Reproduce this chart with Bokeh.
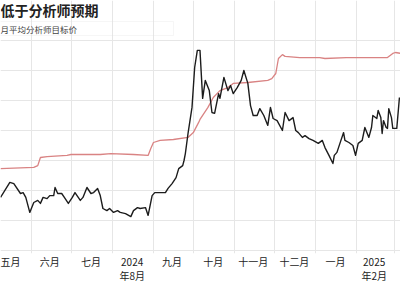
import pandas as pd
from bokeh.plotting import figure
from bokeh.models import Range1d, FixedTicker, Grid, Label, BoxAnnotation
from bokeh.embed import file_html
from bokeh.resources import INLINE

# ---------------- data ----------------
price_dates = [
    "2024-05-09", "2024-05-16", "2024-05-19", "2024-05-24", "2024-05-26", "2024-05-28", "2024-05-31",
    "2024-06-03", "2024-06-06", "2024-06-08", "2024-06-10", "2024-06-13", "2024-06-15", "2024-06-18",
    "2024-06-19", "2024-06-21", "2024-06-24", "2024-06-26", "2024-06-29",
    "2024-07-02", "2024-07-04", "2024-07-08", "2024-07-10", "2024-07-13", "2024-07-16", "2024-07-18",
    "2024-07-21", "2024-07-23", "2024-07-25", "2024-07-28", "2024-07-30",
    "2024-08-02", "2024-08-05", "2024-08-07", "2024-08-11", "2024-08-15", "2024-08-17", "2024-08-20",
    "2024-08-22", "2024-08-26", "2024-08-28", "2024-08-31",
    "2024-09-02", "2024-09-06", "2024-09-10", "2024-09-12", "2024-09-15", "2024-09-18", "2024-09-20",
    "2024-09-23", "2024-09-24", "2024-09-25", "2024-09-27", "2024-09-30",
    "2024-10-02", "2024-10-04", "2024-10-06", "2024-10-08", "2024-10-10", "2024-10-13", "2024-10-15",
    "2024-10-17", "2024-10-20", "2024-10-21", "2024-10-24", "2024-10-27", "2024-10-29", "2024-10-31",
    "2024-11-03", "2024-11-06", "2024-11-08", "2024-11-11", "2024-11-13", "2024-11-15", "2024-11-18",
    "2024-11-20", "2024-11-23", "2024-11-26", "2024-11-28", "2024-11-30",
    "2024-12-03", "2024-12-07", "2024-12-09", "2024-12-12", "2024-12-15", "2024-12-17", "2024-12-19",
    "2024-12-22", "2024-12-24", "2024-12-27", "2024-12-30",
    "2025-01-03", "2025-01-06", "2025-01-08", "2025-01-11", "2025-01-14", "2025-01-15", "2025-01-17",
    "2025-01-20", "2025-01-22", "2025-01-23", "2025-01-26", "2025-01-29", "2025-01-31",
    "2025-02-02", "2025-02-05", "2025-02-07", "2025-02-10", "2025-02-12", "2025-02-13", "2025-02-16",
    "2025-02-17", "2025-02-19", "2025-02-20", "2025-02-21", "2025-02-23", "2025-02-24", "2025-02-25",
    "2025-02-27", "2025-02-28", "2025-03-03", "2025-03-05",
]
price_values = [
    67.7, 72.7, 72.3, 69.0, 69.3, 67.7, 62.7,
    66.0, 66.7, 65.7, 67.7, 67.3, 68.3, 68.3,
    71.0, 69.0, 69.0, 67.7, 65.7,
    67.7, 69.3, 66.7, 67.7, 71.0, 69.0, 69.3,
    70.7, 68.3, 64.0, 63.3, 64.0,
    62.7, 63.3, 62.7, 62.3, 61.3, 63.3, 64.3,
    64.0, 64.3, 61.7, 68.3,
    69.3, 69.3, 69.3, 70.7, 72.3, 74.3, 77.3,
    78.3, 80.0, 82.3, 89.0, 97.7,
    111.0, 116.7, 116.7, 100.7, 106.7, 103.3, 96.0,
    95.7, 102.3, 100.7, 107.7, 103.3, 105.0, 102.3,
    104.3, 106.7, 110.0, 105.7, 98.3, 95.0, 95.0,
    97.3, 95.0, 91.7, 97.7, 94.0,
    93.3, 90.0, 96.0, 93.3, 94.3, 90.0, 89.3,
    87.7, 88.3, 87.3, 86.7,
    85.7, 86.7, 84.3, 81.7, 79.0, 81.7, 82.7,
    86.7, 89.3, 86.7, 86.0, 85.0, 81.7,
    85.7, 86.7, 91.0, 87.7, 91.0, 95.0, 94.0,
    96.7, 94.3, 89.0, 93.3, 91.0, 90.7, 97.3,
    94.3, 90.7, 90.7, 101.0,
]

target_dates = [
    "2024-05-09", "2024-06-03", "2024-06-06", "2024-06-08", "2024-06-13", "2024-06-28", "2024-07-01",
    "2024-07-23", "2024-07-31", "2024-08-17", "2024-08-28", "2024-08-30", "2024-09-01", "2024-09-06",
    "2024-09-16", "2024-09-27", "2024-10-01", "2024-10-05", "2024-10-06", "2024-10-12", "2024-10-16",
    "2024-10-21", "2024-10-27", "2024-10-31", "2024-11-11", "2024-11-26", "2024-11-29", "2024-12-02",
    "2024-12-04", "2024-12-07", "2024-12-09", "2024-12-20", "2025-01-04", "2025-01-08", "2025-01-24",
    "2025-02-24", "2025-02-28", "2025-03-02", "2025-03-06",
]
target_values = [
    77.3, 77.7, 78.3, 81.0, 81.3, 81.7, 82.0,
    82.0, 82.3, 82.0, 81.7, 84.0, 86.0, 86.7,
    87.0, 87.7, 89.3, 92.7, 93.7, 97.7, 101.0,
    103.3, 104.3, 105.7, 106.0, 106.7, 107.3, 109.0,
    114.0, 115.3, 114.7, 114.3, 114.3, 114.0, 114.3,
    114.3, 115.7, 116.0, 115.7,
]

month_starts = ["2024-06-01", "2024-07-01", "2024-08-01", "2024-09-01", "2024-10-01",
                "2024-11-01", "2024-12-01", "2025-01-01", "2025-02-01", "2025-03-01"]
tick_dates = ["2024-05-16", "2024-06-15", "2024-07-16", "2024-08-16", "2024-09-15",
              "2024-10-16", "2024-11-15", "2024-12-16", "2025-01-16", "2025-02-14"]
tick_labels = ["五月", "六月", "七月", "2024\n年8月", "九月",
               "十月", "十一月", "十二月", "一月", "2025\n年2月"]
y_grid_values = [50, 60, 70, 80, 90, 100, 110, 120]

title_text = "低于分析师预期"
legend_text = "月平均分析师目标价"

# ---------------- helpers ----------------
REF = pd.Timestamp("2024-05-01")


def to_days(ds):
    return [int((pd.Timestamp(d) - REF).days) for d in ds]


px = to_days(price_dates)
tx = to_days(target_dates)
assert len(px) == len(price_values)
assert len(tx) == len(target_values)

W, H = 400, 300
BOTTOM = 253          # frame bottom in canvas pixels (frame top = 0)
GRID_TOP = 20         # where the grid starts in canvas pixels
X0, X1 = 7.98, 308.8
Y0 = 49.0
Y1 = Y0 + BOTTOM / 3.0


def xd(pix):
    return X0 + pix * (X1 - X0) / W


def yd(pix):
    return Y1 - pix * (Y1 - Y0) / BOTTOM


p = figure(width=W, height=H, output_backend="svg", toolbar_location=None,
           x_range=Range1d(X0, X1), y_range=Range1d(Y0, Y1),
           y_axis_location=None,
           min_border_left=0, min_border_right=0,
           min_border_top=0, min_border_bottom=H - BOTTOM)
p.outline_line_color = None
p.background_fill_color = "white"
p.border_fill_color = "white"

for g in p.ygrid:
    g.visible = False
p.xgrid.ticker = FixedTicker(ticks=to_days(month_starts))
p.xgrid.grid_line_color = "#e6e6e6"
p.xgrid.grid_line_width = 1
p.xgrid.bounds = (Y0, yd(GRID_TOP))
p.add_layout(Grid(dimension=1, ticker=FixedTicker(ticks=y_grid_values),
                  grid_line_color="#e6e6e6", grid_line_width=1))

tick_days = to_days(tick_dates)
ax = p.xaxis[0]
ax.ticker = FixedTicker(ticks=tick_days)
ax.major_label_overrides = {d: l for d, l in zip(tick_days, tick_labels)}
ax.axis_line_color = None
ax.major_tick_line_color = None
ax.minor_tick_line_color = None
ax.major_tick_in = 0
ax.major_tick_out = 0
ax.major_label_standoff = 0
ax.major_label_text_font = "Noto Sans CJK SC"
ax.major_label_text_font_size = "10px"
ax.major_label_text_line_height = 0.95
ax.major_label_text_color = "#222222"

p.line(tx, target_values, line_color="#d98383", line_width=1.3)
p.line(px, price_values, line_color="#1c1c1c", line_width=1.4, line_join="round")

p.add_layout(BoxAnnotation(left=xd(-2), right=xd(173), top=yd(21), bottom=yd(35),
                           fill_alpha=0, line_color="#e2e2e2", line_width=1))

p.add_layout(Label(x=xd(0), y=yd(9), text=title_text, text_font="Noto Sans CJK SC",
                   text_font_size="14px", text_font_style="bold", text_color="#222222",
                   text_baseline="middle", text_align="left"))
p.add_layout(Label(x=xd(0), y=yd(28), text=legend_text, text_font="Noto Sans CJK SC",
                   text_font_size="8.5px", text_color="#444444",
                   text_baseline="middle", text_align="left"))

open("out.html", "w").write(file_html(p, INLINE))
